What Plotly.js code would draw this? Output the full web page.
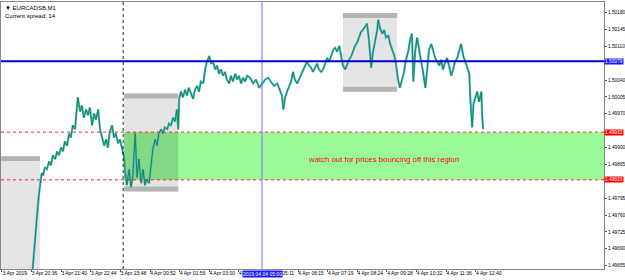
<!DOCTYPE html>
<html>
<head>
<meta charset="utf-8">
<script src="https://cdn.plot.ly/plotly-3.0.1.min.js"></script>
<style>html,body{margin:0;padding:0;background:#fff;}#chart{width:625px;height:280px;}</style>
</head>
<body>
<div id="chart"></div>
<script>
// ---- Data (x = M1 bar index, y = price) ----
const bars = [65,69,71,74,76,78,80,82,84,86,89,93,97,102,106,110,115,119,123,128,132,136,141,145,149,153,158,162,164,169,173,177,182,186,190,195,199,203,208,212,216,221,225,229,233,238,242,246,251,255,259,264,266,270,275,279,283,288,292,296,301,305,309,313,318,322,326,331,335,339,344,348,352,357,361,365,370,374,378,381,383,387,391,396,400,404,409,413,417,422,426,430,435,439,443,448,452,456,461,465,469,473,478,482,486,491,495,499,504,508,512,517,521,525,530,536,543,549,556,562,569,575,582,588,595,601,605,608,612,616,620,625,629,633,638,642,646,651,655,659,664,668,672,677,681,685,690,694,698,703,707,711,716,720,724,729,733,737,742,746,750,755,759,763,768,772,776,780,785,789,793,798,802,806,811,813,817,822,826,830,835,839,843,848,852,856,860,865,869,873,878,882,886,889,893,897,902,906,910,915,919,923,928,932,936,941,945,949,953,958,962,966,971,975,979,984,988,992,997,1001,1005,1010,1012,1014,1016,1019,1023,1027,1031,1036,1038,1040];
const prices = [1.49632,1.49685,1.49710,1.49731,1.49762,1.49783,1.49803,1.49814,1.49834,1.49847,1.49842,1.49859,1.49855,1.49871,1.49863,1.49884,1.49876,1.49892,1.49884,1.49900,1.49892,1.49913,1.49904,1.49929,1.49921,1.49946,1.49938,1.49983,1.50004,1.49975,1.49987,1.49962,1.49979,1.49967,1.49983,1.49946,1.49971,1.49958,1.49979,1.49938,1.49925,1.49904,1.49917,1.49900,1.49933,1.49946,1.49921,1.49929,1.49909,1.49917,1.49900,1.49880,1.49851,1.49822,1.49855,1.49818,1.49842,1.49929,1.49838,1.49876,1.49826,1.49855,1.49822,1.49834,1.49826,1.49859,1.49896,1.49917,1.49904,1.49929,1.49938,1.49929,1.49942,1.49938,1.49950,1.49946,1.49962,1.49954,1.49979,1.49938,1.50001,1.50016,1.50004,1.50020,1.50008,1.50024,1.50012,1.50001,1.50020,1.50028,1.50016,1.50037,1.50033,1.50062,1.50078,1.50090,1.50074,1.50078,1.50062,1.50070,1.50053,1.50062,1.50049,1.50057,1.50041,1.50033,1.50049,1.50037,1.50053,1.50041,1.50049,1.50033,1.50045,1.50037,1.50049,1.50045,1.50033,1.50041,1.50024,1.50033,1.50041,1.50045,1.50037,1.50028,1.50033,1.50016,1.50008,1.49979,1.50004,1.50016,1.50024,1.50037,1.50057,1.50041,1.50033,1.50041,1.50049,1.50062,1.50070,1.50078,1.50070,1.50066,1.50057,1.50066,1.50074,1.50062,1.50057,1.50062,1.50074,1.50086,1.50078,1.50090,1.50103,1.50107,1.50099,1.50111,1.50090,1.50070,1.50062,1.50074,1.50082,1.50090,1.50103,1.50111,1.50119,1.50128,1.50140,1.50144,1.50153,1.50157,1.50124,1.50066,1.50099,1.50119,1.50144,1.50165,1.50148,1.50136,1.50144,1.50128,1.50132,1.50115,1.50103,1.50090,1.50070,1.50041,1.50024,1.50041,1.50057,1.50082,1.50099,1.50124,1.50136,1.50037,1.50099,1.50128,1.50103,1.50082,1.50057,1.50024,1.50062,1.50103,1.50115,1.50099,1.50086,1.50078,1.50070,1.50082,1.50062,1.50078,1.50086,1.50070,1.50049,1.50062,1.50078,1.50086,1.50099,1.50115,1.50090,1.50078,1.50070,1.50053,1.50004,1.49969,1.49942,1.49991,1.50004,1.50016,1.49995,1.50016,1.49962,1.49938];

const xTickVals = [0,64,128,192,256,320,384,448,512,576,640,704,768,832,896,960,1024];
const xTickText = ["3 Apr 2019","3 Apr 20:36","3 Apr 21:40","3 Apr 22:44","3 Apr 23:48","4 Apr 00:52","4 Apr 01:56","4 Apr 03:00","4 Apr 04:04","4 Apr 05:11","4 Apr 06:15","4 Apr 07:19","4 Apr 08:24","4 Apr 09:28","4 Apr 10:32","4 Apr 11:36","4 Apr 12:40"];
const yTickVals = [1.50180,1.50145,1.50110,1.50040,1.50005,1.49970,1.49900,1.49865,1.49795,1.49760,1.49725,1.49690,1.49655];
const yTickText = ["1.50180","1.50145","1.50110","1.50040","1.50005","1.49970","1.49900","1.49865","1.49795","1.49760","1.49725","1.49690","1.49655"];

// zone, levels, boxes
const zoneStart = 264;
const zoneTop = 1.49932, zoneBottom = 1.49833;
const blueLevel = 1.50079;
const blueTimeBar = 562, blueTimeText = "2019.04.04 05:00";
const daySeparatorBar = 262;
const boxStarts = [-4, 264, 737];
const boxEnds = [82, 381, 854];
const boxTops = [1.49882, 1.50012, 1.50179];
const boxBottoms = [1.49600, 1.49809, 1.50016];
const noteText = "watch out for prices bouncing off this region";
const noteBar = 824, notePrice = 1.49876;
const symbolText = "\u25BC EURCADSB,M1";
const spreadText = "Current spread: 14";

const X_RANGE = [-2, 1301];
const Y_RANGE = [1.49648, 1.50202];
const BAND = 0.00010;

const shapes = [];
for (let i = 0; i < boxStarts.length; i++) {
  shapes.push({type:'rect', layer:'below', xref:'x', yref:'y', x0:boxStarts[i], x1:boxEnds[i], y0:boxBottoms[i], y1:boxTops[i], fillcolor:'#e4e4e4', line:{width:0}});
  shapes.push({type:'rect', layer:'below', xref:'x', yref:'y', x0:boxStarts[i], x1:boxEnds[i], y0:boxTops[i]-BAND, y1:boxTops[i], fillcolor:'#b4b4b4', line:{width:0}});
  shapes.push({type:'rect', layer:'below', xref:'x', yref:'y', x0:boxStarts[i], x1:boxEnds[i], y0:boxBottoms[i], y1:boxBottoms[i]+BAND, fillcolor:'#b4b4b4', line:{width:0}});
}
shapes.push({type:'rect', layer:'below', xref:'x', yref:'y', x0:zoneStart, x1:X_RANGE[1], y0:zoneBottom, y1:zoneTop, fillcolor:'#98fb98', line:{width:0}});
for (let i = 0; i < boxStarts.length; i++) {
  const x0 = Math.max(zoneStart, boxStarts[i]), x1 = boxEnds[i];
  const y0 = Math.max(zoneBottom, boxBottoms[i]), y1 = Math.min(zoneTop, boxTops[i]);
  if (x1 > x0 && y1 > y0) {
    shapes.push({type:'rect', layer:'below', xref:'x', yref:'y', x0:x0, x1:x1, y0:y0, y1:y1, fillcolor:'#84d884', line:{width:0}});
  }
}
[zoneTop, zoneBottom].forEach(v => shapes.push({type:'line', xref:'paper', yref:'y', x0:0, x1:1, y0:v, y1:v, line:{color:'#ff2020', width:1, dash:'dot'}}));
shapes.push({type:'line', xref:'x', yref:'paper', x0:daySeparatorBar, x1:daySeparatorBar, y0:0, y1:1, line:{color:'#222', width:1, dash:'dot'}});
shapes.push({type:'line', xref:'x', yref:'paper', x0:blueTimeBar, x1:blueTimeBar, y0:0, y1:1, line:{color:'#7070ff', width:1}});
shapes.push({type:'line', xref:'paper', yref:'y', x0:0, x1:1, y0:blueLevel, y1:blueLevel, line:{color:'#0000cc', width:2}});

const traces = [
  {x:bars, y:prices, type:'scatter', mode:'lines', line:{color:'#5aaef0', width:2.2}, hoverinfo:'skip'},
  {x:bars, y:prices, type:'scatter', mode:'lines', line:{color:'#0c9430', width:1}, hoverinfo:'skip'}
];

const fontFam = 'Liberation Sans, Arial, sans-serif';
const annotations = [
  {xref:'x', yref:'y', x:noteBar, y:notePrice, text:noteText, showarrow:false, font:{family:fontFam, size:7.8, color:'#ff0000'}},
  {xref:'paper', yref:'paper', x:0.004, y:0.995, xanchor:'left', yanchor:'top', text:symbolText, showarrow:false, font:{family:fontFam, size:6, color:'#000'}},
  {xref:'paper', yref:'paper', x:0.004, y:0.965, xanchor:'left', yanchor:'top', text:spreadText, showarrow:false, font:{family:fontFam, size:6, color:'#000'}},
  {xref:'paper', yref:'y', x:1, y:blueLevel, xanchor:'left', yanchor:'middle', text:blueLevel.toFixed(5), showarrow:false, bgcolor:'#1a1aff', borderpad:0, font:{family:fontFam, size:4.8, color:'#fff'}},
  {xref:'paper', yref:'y', x:1, y:zoneTop, xanchor:'left', yanchor:'middle', text:zoneTop.toFixed(5), showarrow:false, bgcolor:'#ff0000', borderpad:0, font:{family:fontFam, size:4.8, color:'#fff'}},
  {xref:'paper', yref:'y', x:1, y:zoneBottom, xanchor:'left', yanchor:'middle', text:zoneBottom.toFixed(5), showarrow:false, bgcolor:'#ff0000', borderpad:0, font:{family:fontFam, size:4.8, color:'#fff'}},
  {xref:'x', yref:'paper', x:blueTimeBar, y:0, yshift:-1, xanchor:'center', yanchor:'top', text:blueTimeText, showarrow:false, bgcolor:'#1a1aff', borderpad:0, font:{family:fontFam, size:5, color:'#fff'}}
];

const layout = {
  width:625, height:280,
  margin:{l:1, r:21, t:2, b:11, pad:0},
  paper_bgcolor:'#fff', plot_bgcolor:'#fff',
  showlegend:false,
  xaxis:{range:X_RANGE, tickmode:'array', tickvals:xTickVals, ticktext:xTickText, ticks:'outside', ticklen:2, tickcolor:'#555',
         tickfont:{family:fontFam, size:5, color:'#000'}, ticklabelshift:13, ticklabelstandoff:-3, showgrid:false, zeroline:false,
         showline:true, mirror:true, linecolor:'#888', linewidth:1, automargin:false, fixedrange:true},
  yaxis:{range:Y_RANGE, side:'right', tickmode:'array', tickvals:yTickVals, ticktext:yTickText, ticks:'outside', ticklen:2, tickcolor:'#555',
         tickfont:{family:fontFam, size:4.8, color:'#000'}, ticklabelstandoff:0, showgrid:false, zeroline:false,
         showline:true, mirror:true, linecolor:'#888', linewidth:1, automargin:false, fixedrange:true},
  shapes:shapes,
  annotations:annotations
};

Plotly.newPlot('chart', traces, layout, {staticPlot:true, displayModeBar:false});
</script>
</body>
</html>
